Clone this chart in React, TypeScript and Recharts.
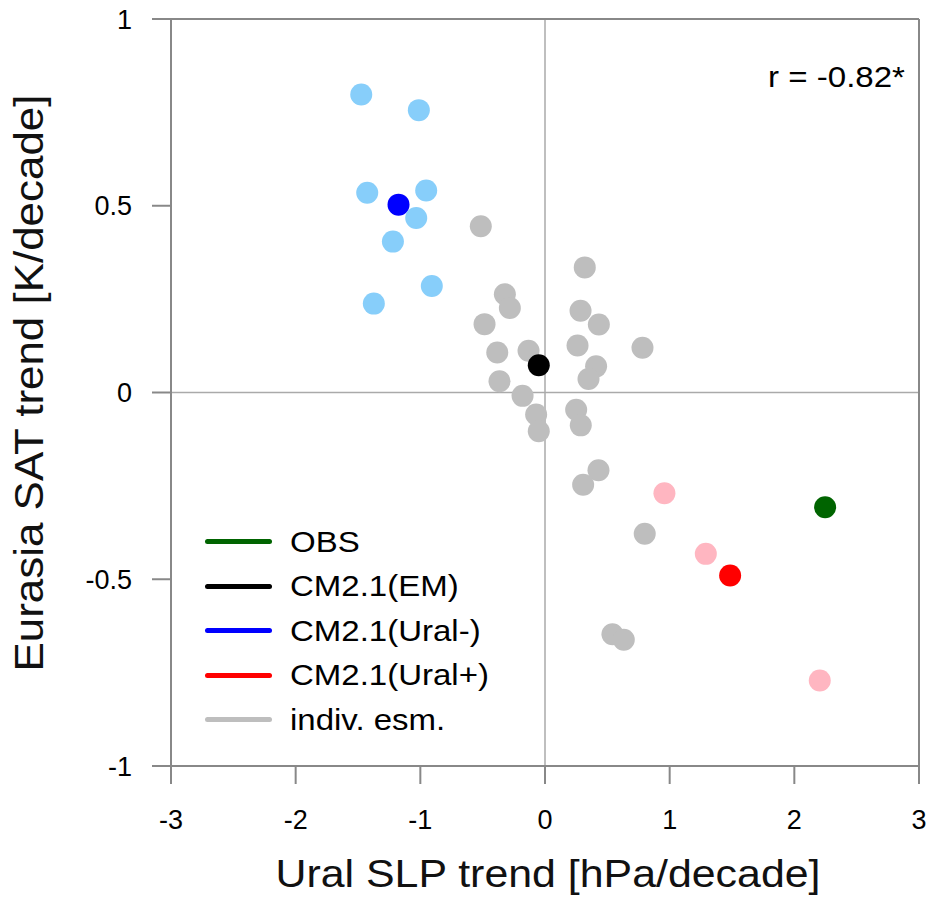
import React from 'react';
import { ScatterChart, Scatter, XAxis, YAxis, ReferenceLine, Legend, Label } from 'recharts';

const FONT = '"Liberation Sans", Arial, Helvetica, sans-serif';

const xTicks = [-3, -2, -1, 0, 1, 2, 3];
const yTicks = [-1, -0.5, 0, 0.5, 1];

// individual ensemble members (grey)
const indivX = [-0.515, 0.319, -0.322, -0.282, -0.485, 0.285, 0.432, 0.261, 0.782, -0.383, -0.132, 0.41,
  0.349, -0.365, -0.18, 0.25, -0.071, 0.287, -0.05, 0.429, 0.306, 0.8, 0.541, 0.632];
const indivY = [0.445, 0.335, 0.263, 0.226, 0.183, 0.219, 0.182, 0.126, 0.12, 0.107, 0.112, 0.07,
  0.036, 0.03, -0.009, -0.046, -0.059, -0.088, -0.104, -0.208, -0.247, -0.378, -0.647, -0.662];

// members in the Ural- composite (light blue)
const minusX = [-1.474, -1.012, -1.426, -0.953, -1.033, -1.22, -0.908, -1.373];
const minusY = [0.798, 0.756, 0.535, 0.541, 0.467, 0.404, 0.285, 0.238];

// members in the Ural+ composite (pink)
const plusX = [0.958, 1.29, 2.204];
const plusY = [-0.27, -0.432, -0.771];

const obs = [{ x: 2.247, y: -0.307 }];
const em = [{ x: -0.05, y: 0.073 }];
const uralMinus = [{ x: -1.175, y: 0.503 }];
const uralPlus = [{ x: 1.485, y: -0.49 }];

const legendOrder = ['OBS', 'CM2.1(EM)', 'CM2.1(Ural-)', 'CM2.1(Ural+)', 'indiv. esm.'];

const toPoints = (xs: number[], ys: number[]) => xs.map((x, i) => ({ x, y: ys[i] }));

const Dot = (props: any) => <circle cx={props.cx} cy={props.cy} r={11} fill={props.fill} />;

const LegendBox = (props: any) => {
  const items = (props.payload || [])
    .filter((p: any) => legendOrder.includes(p.value))
    .sort((a: any, b: any) => legendOrder.indexOf(a.value) - legendOrder.indexOf(b.value));
  return (
    <div style={{ fontFamily: FONT }}>
      {items.map((p: any) => (
        <div key={p.value} style={{ display: 'flex', alignItems: 'center', height: 44.5 }}>
          <span style={{ width: 67, height: 5, borderRadius: 3, background: p.color, display: 'inline-block' }} />
          <span
            style={{
              marginLeft: 18, fontSize: 30, color: '#000', lineHeight: 1, display: 'inline-block',
              transform: 'scaleX(1.1)', transformOrigin: 'left center', whiteSpace: 'nowrap',
            }}
          >
            {p.value}
          </span>
        </div>
      ))}
    </div>
  );
};

export default function App() {
  return (
    <div style={{ position: 'absolute', left: 0, top: 0, background: '#fff' }}>
      <ScatterChart width={933} height={900} margin={{ top: 19, right: 14, left: 0, bottom: 0 }}>
        <XAxis
          type="number"
          dataKey="x"
          domain={[-3, 3]}
          ticks={xTicks}
          tickSize={18}
          tickMargin={26}
          height={134}
          stroke="#888"
          strokeWidth={2}
          tick={{ fill: '#000', fontSize: 27, fontFamily: FONT }}
        >
          <Label
            content={() => (
              <text x={548} y={887} textAnchor="middle" fontSize={38} fontFamily={FONT} fill="#111"
                textLength={545} lengthAdjust="spacingAndGlyphs">
                Ural SLP trend [hPa/decade]
              </text>
            )}
          />
        </XAxis>
        <YAxis
          type="number"
          dataKey="y"
          domain={[-1, 1]}
          ticks={yTicks}
          tickSize={19}
          tickMargin={20}
          width={171}
          stroke="#888"
          strokeWidth={2}
          tick={{ fill: '#000', fontSize: 27, fontFamily: FONT }}
        >
          <Label
            content={() => (
              <text x={43} y={383} transform="rotate(-90 43 383)" textAnchor="middle" fontSize={40}
                fontFamily={FONT} fill="#111" textLength={577} lengthAdjust="spacingAndGlyphs">
                Eurasia SAT trend [K/decade]
              </text>
            )}
          />
        </YAxis>
        <ReferenceLine x={0} stroke="#aaa" strokeWidth={1.5} />
        <ReferenceLine y={0} stroke="#aaa" strokeWidth={1.5} />
        <ReferenceLine x={3} stroke="#888" strokeWidth={2} />
        <ReferenceLine y={1} stroke="#888" strokeWidth={2}>
          <Label
            content={() => (
              <text x={905} y={87} textAnchor="end" fontSize={30} fontFamily={FONT} fill="#000"
                textLength={137} lengthAdjust="spacingAndGlyphs">
                r = -0.82*
              </text>
            )}
          />
        </ReferenceLine>
        <Scatter name="indiv. esm." data={toPoints(indivX, indivY)} fill="#bebebe" shape={Dot} isAnimationActive={false} />
        <Scatter name="Ural- members" data={toPoints(minusX, minusY)} fill="#87cefa" shape={Dot} legendType="none" isAnimationActive={false} />
        <Scatter name="Ural+ members" data={toPoints(plusX, plusY)} fill="#ffb6c1" shape={Dot} legendType="none" isAnimationActive={false} />
        <Scatter name="CM2.1(EM)" data={em} fill="#000000" shape={Dot} isAnimationActive={false} />
        <Scatter name="CM2.1(Ural-)" data={uralMinus} fill="#0000ff" shape={Dot} isAnimationActive={false} />
        <Scatter name="CM2.1(Ural+)" data={uralPlus} fill="#ff0000" shape={Dot} isAnimationActive={false} />
        <Scatter name="OBS" data={obs} fill="#006400" shape={Dot} isAnimationActive={false} />
        <Legend
          layout="vertical"
          align="center"
          verticalAlign="middle"
          content={LegendBox}
          wrapperStyle={{ position: 'absolute', left: 205, top: 519.5, width: 330 }}
        />
      </ScatterChart>
    </div>
  );
}
